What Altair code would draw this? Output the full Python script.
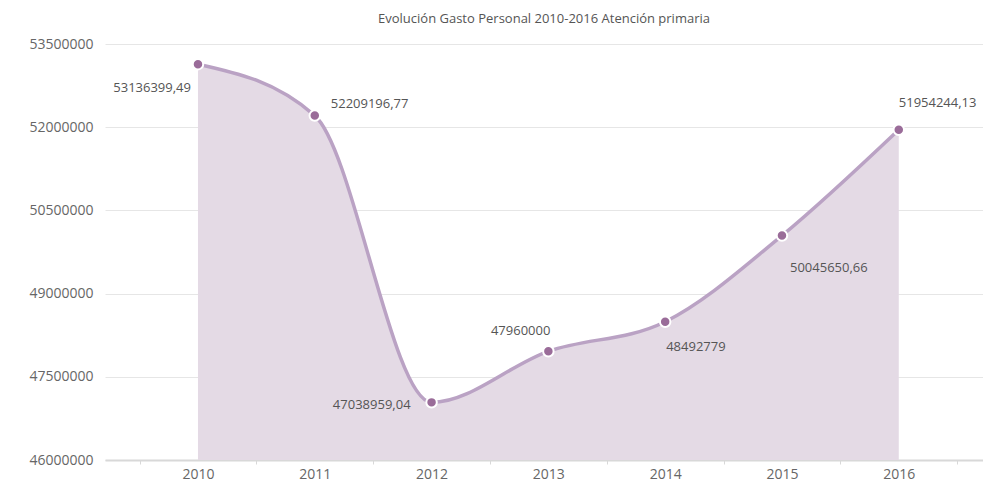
import altair as alt
import pandas as pd

years = [2010, 2011, 2012, 2013, 2014, 2015, 2016]
values = [53136399.49, 52209196.77, 47038959.04, 47960000, 48492779, 50045650.66, 51954244.13]

y_ticks = [46000000, 47500000, 49000000, 50500000, 52000000, 53500000]
x_ticks = [2009.5, 2010.5, 2011.5, 2012.5, 2013.5, 2014.5, 2015.5, 2016.5]
title_text = "Evolución Gasto Personal 2010-2016 Atención primaria"


def fmt(v):
    if float(v).is_integer():
        return str(int(v))
    return f"{v:.2f}".replace(".", ",")


df = pd.DataFrame({"year": years, "value": values, "label": [fmt(v) for v in values]})

FONT = "Open Sans"
TXT = "#666666"
PX_PER_YEAR = 116.8
W = 878
x0 = 2009.204
x_scale = alt.Scale(domain=[x0, x0 + W / PX_PER_YEAR], nice=False, zero=False)
y_scale = alt.Scale(domain=[46000000, 53500000], nice=False, zero=False)

x_axis = alt.Axis(
    values=x_ticks, title=None, grid=False,
    labelExpr="datum.value < 2016 ? toString(datum.value + 0.5) : ''",
    labelOffset=PX_PER_YEAR / 2, labelFlush=False, labelOverlap=False,
    labelFont=FONT, labelFontSize=14, labelColor=TXT, labelPadding=3,
    domainColor="#d8d8d8", domainWidth=2, tickColor="#d8d8d8", tickSize=4,
)
y_axis = alt.Axis(
    values=y_ticks, format="d", title=None, domain=False, ticks=False,
    grid=True, gridColor="#e6e6e6", gridWidth=1,
    labelFont=FONT, labelFontSize=14, labelColor=TXT, labelPadding=12,
)

base = alt.Chart(df)

area = base.mark_area(interpolate="monotone", color="#e4dae5", opacity=1).encode(
    x=alt.X("year:Q", scale=x_scale, axis=x_axis),
    y=alt.Y("value:Q", scale=y_scale, axis=y_axis),
    y2=alt.datum(46000000),
)
line = base.mark_line(interpolate="monotone", color="#baa2c4", strokeWidth=3.5).encode(
    x=alt.X("year:Q", scale=x_scale),
    y=alt.Y("value:Q", scale=y_scale),
)
points = base.mark_point(filled=True, shape="circle", size=110, color="#9a6c99",
                         stroke="white", strokeWidth=2, opacity=1).encode(
    x=alt.X("year:Q", scale=x_scale),
    y=alt.Y("value:Q", scale=y_scale),
)

# label placement per point (style only): year, align, dx, dy
placements = [
    (2010, "right", -7, 24),
    (2011, "left", 16, -12),
    (2012, "right", -21, 3),
    (2013, "right", 2, -20),
    (2014, "left", 1, 25),
    (2015, "left", 8, 32),
    (2016, "left", 0, -27),
]
labels = []
for yr, al, dx, dy in placements:
    labels.append(
        base.transform_filter(alt.datum.year == yr).mark_text(
            align=al, baseline="middle", dx=dx, dy=dy,
            font=FONT, fontSize=13, color="#555555",
        ).encode(
            x=alt.X("year:Q", scale=x_scale),
            y=alt.Y("value:Q", scale=y_scale),
            text="label:N",
        )
    )

chart = alt.layer(area, line, points, *labels).properties(
    width=W, height=416,
    title=alt.TitleParams(title_text, font=FONT, fontSize=13, fontWeight="normal",
                          color="#555555", anchor="middle", offset=11),
    autosize="none",
    padding={"left": 97, "top": 36, "right": 0, "bottom": 24},
).configure_view(stroke=None)

chart.save("out.html", embed_options={"renderer": "svg", "actions": False})
